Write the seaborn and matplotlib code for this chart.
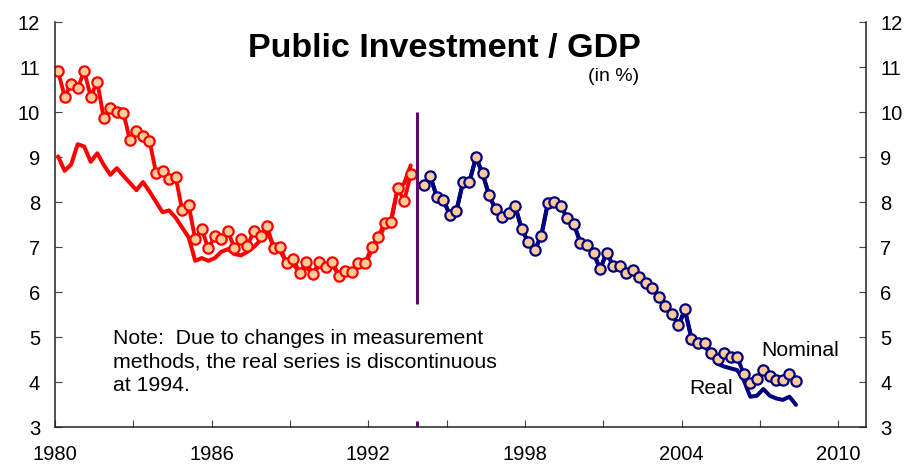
import matplotlib
matplotlib.use("Agg")
import matplotlib.pyplot as plt
import numpy as np
import pandas as pd
import seaborn as sns

# Public investment as a share of GDP (%), quarterly
# 1980Q1 - 1993Q3 (old measurement basis)
nominal_old = [10.92, 10.35, 10.63, 10.53, 10.92, 10.35, 10.68, 9.87, 10.09, 10.00,
               9.99, 9.38, 9.59, 9.47, 9.37, 8.66, 8.70, 8.51, 8.57, 7.83,
               7.94, 7.18, 7.40, 6.98, 7.24, 7.18, 7.37, 6.98, 7.18, 7.03,
               7.37, 7.26, 7.48, 6.98, 7.01, 6.64, 6.75, 6.42, 6.68, 6.40,
               6.68, 6.56, 6.68, 6.36, 6.48, 6.44, 6.65, 6.64, 7.00, 7.22,
               7.54, 7.56, 8.31, 8.03, 8.62]
real_old = [9.02, 8.70, 8.84, 9.29, 9.24, 8.90, 9.09, 8.83, 8.61, 8.76,
            8.59, 8.43, 8.27, 8.45, 8.24, 8.01, 7.78, 7.82, 7.66, 7.44,
            7.22, 6.70, 6.76, 6.70, 6.76, 6.90, 6.96, 6.85, 6.82, 6.90,
            7.01, 7.16, 7.38, 7.02, 6.92, 6.66, 6.62, 6.45, 6.55, 6.42,
            6.58, 6.50, 6.60, 6.40, 6.42, 6.42, 6.58, 6.62, 6.92, 7.15,
            7.48, 7.62, 8.30, 8.42, 8.82]

# 1994Q1 - 2008Q2 (new measurement basis)
nominal_new = [8.38, 8.58, 8.12, 8.05, 7.72, 7.81, 8.44, 8.46, 9.00, 8.64,
               8.16, 7.84, 7.67, 7.77, 7.92, 7.40, 7.12, 6.94, 7.26, 7.98,
               8.01, 7.92, 7.64, 7.51, 7.10, 7.06, 6.88, 6.51, 6.88, 6.59,
               6.58, 6.42, 6.50, 6.34, 6.21, 6.09, 5.90, 5.70, 5.52, 5.27,
               5.63, 4.97, 4.88, 4.87, 4.65, 4.52, 4.64, 4.57, 4.57, 4.18,
               3.99, 4.07, 4.27, 4.14, 4.05, 4.04, 4.18, 4.03]
real_new = [8.38, 8.58, 8.12, 8.05, 7.72, 7.81, 8.44, 8.46, 9.00, 8.64,
            8.16, 7.84, 7.60, 7.77, 7.92, 7.40, 7.12, 6.94, 7.26, 7.98,
            8.01, 7.92, 7.64, 7.51, 7.10, 7.06, 6.88, 6.51, 6.88, 6.59,
            6.58, 6.42, 6.50, 6.34, 6.21, 6.09, 5.90, 5.70, 5.52, 5.27,
            5.58, 4.98, 4.83, 4.79, 4.64, 4.41, 4.35, 4.31, 4.27, 4.05,
            3.68, 3.70, 3.85, 3.70, 3.64, 3.61, 3.68, 3.50]

old_start = "1980Q1"
new_start = "1994Q1"
break_quarter = "1993Q4"

year_ticks = list(range(1980, 2011, 3))
year_labels = [str(y) if (y - 1980) % 6 == 0 else "" for y in year_ticks]
value_ticks = list(range(3, 13))

RED = "#FF0000"
NAVY = "#000080"
FACE = "#FFCC99"
PURPLE = "#5E0A68"


def quarter_midpoints(start, n):
    q = pd.period_range(start, periods=n, freq="Q")
    return np.asarray(q.year + (q.quarter - 1) / 4 + 0.125, dtype=float)


sns.set_style("ticks")
plt.rcParams["font.family"] = ["Liberation Sans", "DejaVu Sans"]
plt.rcParams["text.color"] = "black"

fig = plt.figure(figsize=(9.05, 4.66), dpi=100)
ax = fig.add_axes([0.06055, 0.08305, 0.95646 - 0.06055, 0.95215 - 0.08305])

t_old = quarter_midpoints(old_start, len(nominal_old))
t_new = quarter_midpoints(new_start, len(nominal_new))
old = pd.DataFrame({"t": t_old, "nominal": nominal_old, "real": real_old})
new = pd.DataFrame({"t": t_new, "nominal": nominal_new, "real": real_new})

for df, col in ((old, RED), (new, NAVY)):
    sns.lineplot(data=df, x="t", y="real", color=col, lw=2.9, estimator=None,
                 sort=False, ax=ax)
    sns.lineplot(data=df, x="t", y="nominal", color=col, lw=2.8, estimator=None,
                 sort=False, ax=ax, marker="o", markersize=7.4,
                 markerfacecolor=FACE, markeredgecolor=col, markeredgewidth=1.6)

# measurement break
t_break = quarter_midpoints(break_quarter, 1)[0]
ax.plot([t_break, t_break], [5.75, 10.0], color=PURPLE, lw=2.2, solid_capstyle="butt")
ax.plot([t_break, t_break], [3.0, 3.14], color=PURPLE, lw=2.2, solid_capstyle="butt")

ax.set_xlim(1980, 2011.04)
ax.set_ylim(3, 12)
ax.set_xticks(year_ticks)
ax.set_xticklabels(year_labels)
ax.set_yticks(value_ticks)
ax.set_xlabel("")
ax.set_ylabel("")

for side in ("left", "right", "bottom"):
    ax.spines[side].set_visible(True)
    ax.spines[side].set_color("#222222")
    ax.spines[side].set_linewidth(1.1)
ax.spines["top"].set_visible(False)

ax.tick_params(axis="x", direction="in", length=5, width=0.8, color="#444444",
               pad=13, labelsize=14.5, labelcolor="black")
ax.tick_params(axis="y", direction="in", length=5, width=0.8, color="#444444",
               pad=10.5, labelsize=14.5, labelcolor="black",
               left=True, right=True, labelleft=True, labelright=True)

fig.text(444 / 905, 1 - 57 / 466, "Public Investment / GDP", ha="center",
         va="baseline", fontsize=24.5, fontweight="bold", color="black")
fig.text(588 / 905, 1 - 81 / 466, "(in %)", ha="left", va="baseline", fontsize=14)

ax.text(1982.23, 3.81,
        "Note:  Due to changes in measurement\n"
        "methods, the real series is discontinuous\n"
        "at 1994.",
        ha="left", va="baseline", fontsize=15.3, linespacing=1.3)
ax.text(2007.06, 4.59, "Nominal", ha="left", va="baseline", fontsize=15.3)
ax.text(2004.28, 3.74, "Real", ha="left", va="baseline", fontsize=15.3)

fig.savefig("out.png", dpi=100, facecolor="white")
